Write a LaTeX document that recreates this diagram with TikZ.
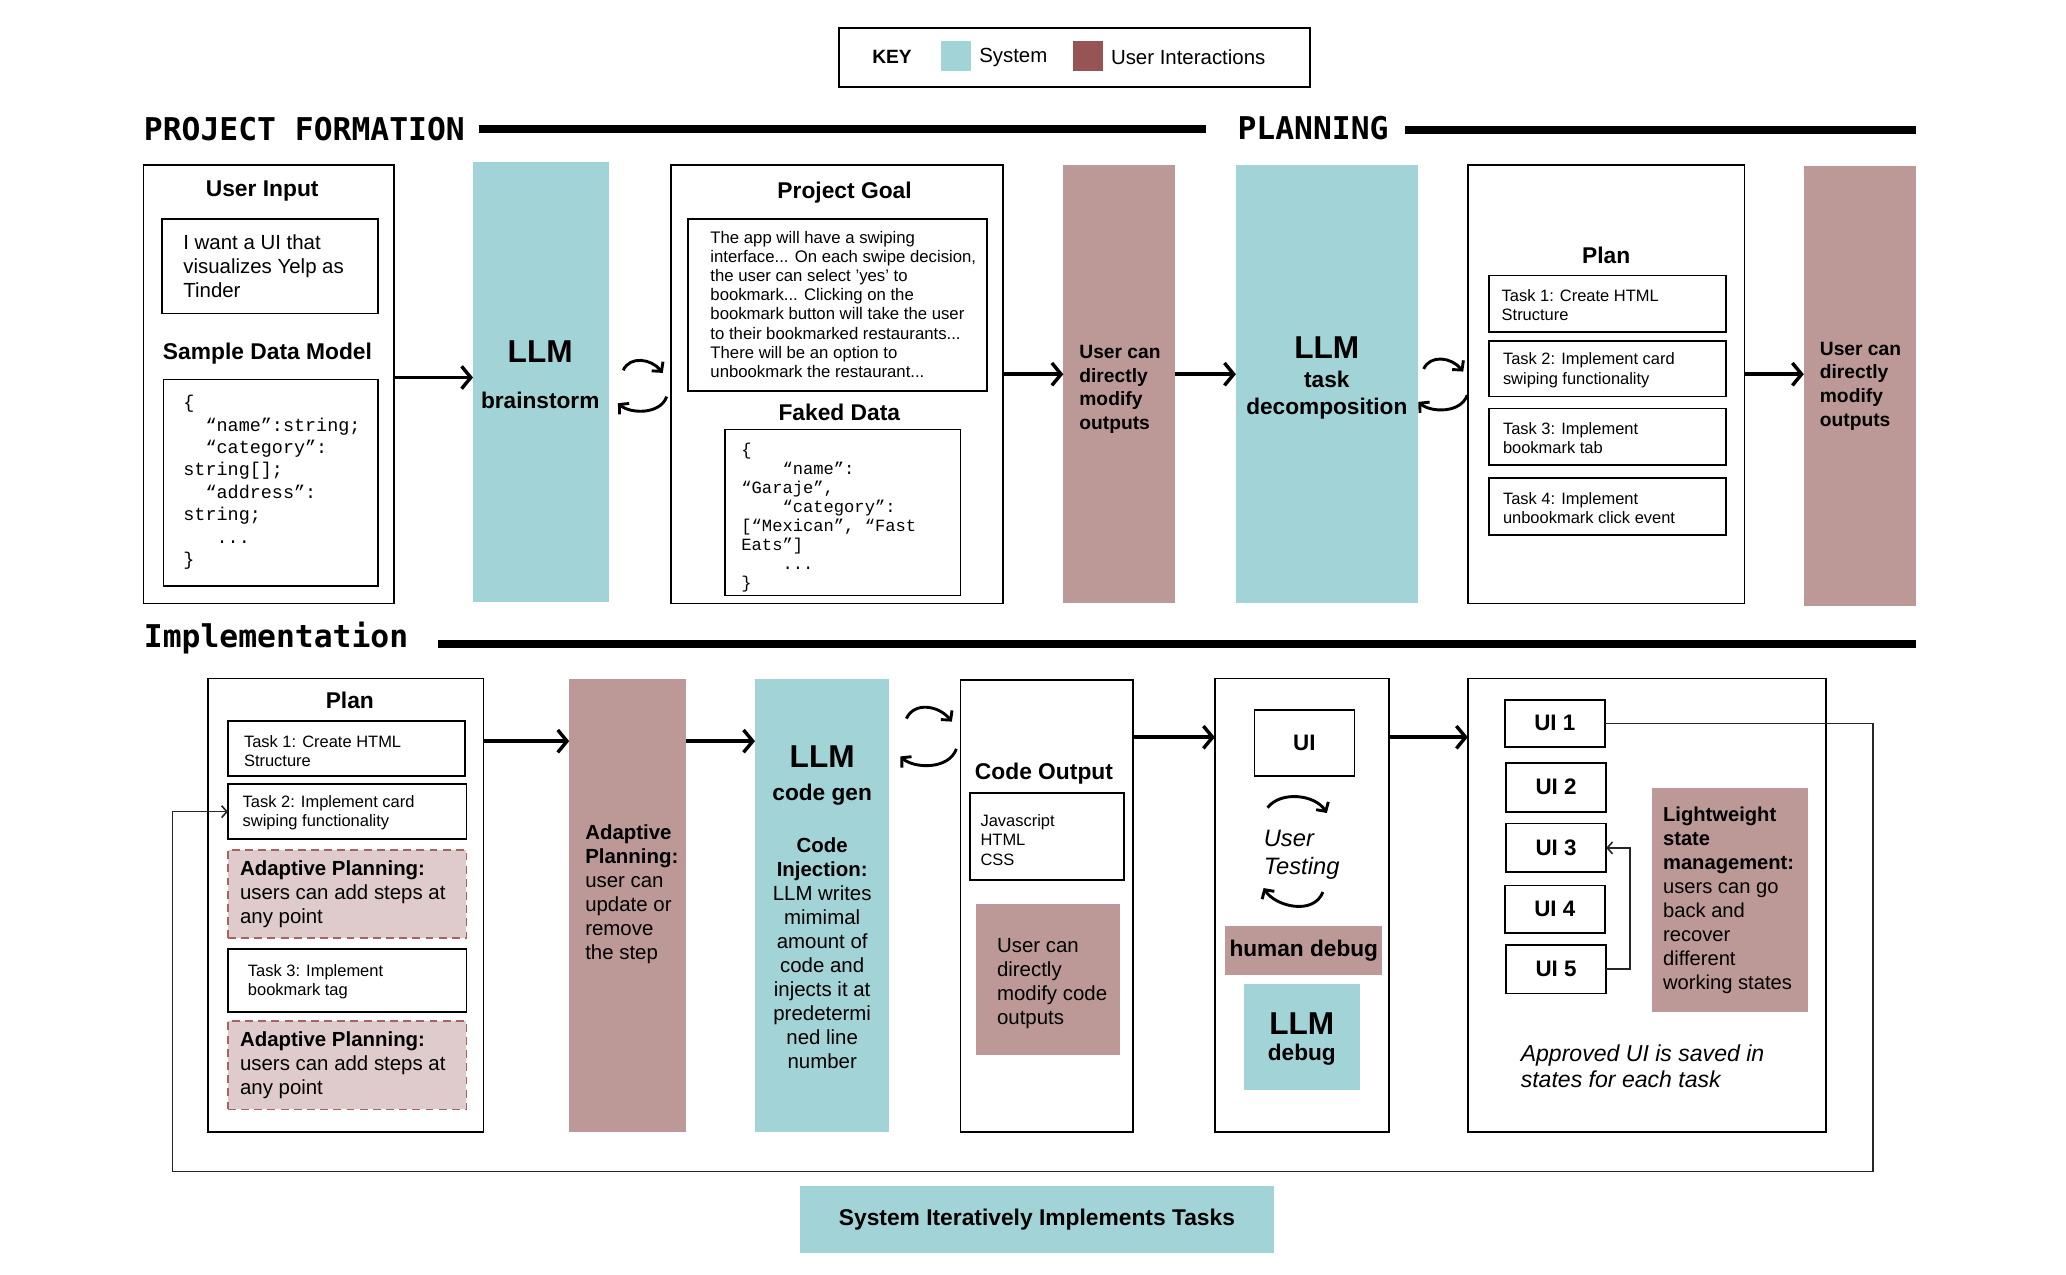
\documentclass[tikz,border=0pt]{standalone}
\usepackage{fontspec}
\setmainfont{Liberation Sans}
\newfontfamily\codefont{Liberation Mono}
\newfontfamily\headfont{DejaVu Sans Mono}
\usetikzlibrary{arrows.meta}
\definecolor{sysc}{HTML}{A2D3D6}
\definecolor{usrc}{HTML}{BC9896}
\definecolor{keyu}{HTML}{975454}
\definecolor{adaptf}{HTML}{DFCBCB}
\definecolor{adaptb}{HTML}{A86262}
\newcommand\fsz[2]{\fontsize{#1}{#2}\selectfont}
\newcommand\bft[1]{{\bfseries #1}}
\newcommand\ind[1]{\hphantom{#1}}
\tikzset{
  box/.style={draw=black, line width=1.3pt, anchor=north west, inner sep=0pt, outer sep=0pt},
  sysbox/.style={fill=sysc, anchor=north west, inner sep=0pt, outer sep=0pt},
  usrbox/.style={fill=usrc, anchor=north west, inner sep=0pt, outer sep=0pt},
  adbox/.style={fill=adaptf, draw=adaptb, line width=1.2pt, dash pattern=on 6pt off 4pt, anchor=north west, inner sep=0pt, outer sep=0pt},
  txt/.style={inner sep=0pt, anchor=west, align=left},
  ctxt/.style={inner sep=0pt, anchor=center, align=center},
  ttl/.style={ctxt, font=\bfseries\fsz{17.3}{20}},
  llmt/.style={ctxt, font=\bfseries\fsz{24}{28}},
  subt/.style={ctxt, font=\bfseries\fsz{17.2}{20.3}},
  body/.style={txt, font=\fsz{15.5}{18.2}},
  modt/.style={txt, font=\bfseries\fsz{14.6}{18}},
  task/.style={txt, font=\fsz{12.5}{14.8}},
  hdr/.style={inner sep=0pt, anchor=base west, font=\headfont\bfseries\fsz{23.8}{26}},
  uit/.style={box, font=\bfseries\fsz{17}{20}},
  bigarr/.style={line width=2.6pt, -{Straight Barb[length=7pt,width=17pt]}},
  cycarr/.style={line width=2.2pt, -{Straight Barb[length=5pt,width=11pt]}},
  thinarr/.style={line width=1.2pt, draw=black!85, -{Straight Barb[length=4pt,width=9pt]}},
  rulebar/.style={line width=6pt},
  cyc/.pic={
    \draw[cycarr] (-14,-11) .. controls (-9,-22) and (7,-20) .. (16,-9);
    \draw[cycarr] (19,9) .. controls (14,23) and (-9,22) .. (-18,14);
  }
}
\begin{document}
\begin{tikzpicture}[x=1pt,y=-1pt]
\fill[white] (0,0) rectangle (1568,967);
\useasboundingbox (0,0) rectangle (1568,967);

% ---------- key ----------
\node[box, minimum width=357, minimum height=45] (key) at (637,21) {};
\node[ctxt, font=\bfseries\fsz{14.6}{17}] (keyT) at (677,43.5) {KEY};
\node[sysbox, minimum width=23, minimum height=23] (keysys) at (714,31) {};
\node[txt, font=\fsz{15.5}{18}] (keysysT) at (743,43.5) {System};
\node[anchor=north west, inner sep=0pt, fill=keyu, minimum width=23, minimum height=23] (keyusr) at (814,31) {};
\node[txt, font=\fsz{15.5}{18}] (keyusrT) at (843,43.5) {User Interactions};

% ---------- section headers ----------
\node[hdr] (hPF) at (109,107) {PROJECT FORMATION};
\node[hdr] (hPL) at (939,106) {PLANNING};
\node[hdr] (hIM) at (109,491.5) {Implementation};
\draw[rulebar] (363.5,97.7) -- (915,97.7);
\draw[rulebar] (1066.5,98.8) -- (1454,98.8);
\draw[rulebar] (332.5,488.5) -- (1454,488.5);

% ---------- top row ----------
\node[box, minimum width=190, minimum height=333] (uin) at (109,125) {};
\node[ttl] (uinT) at (199,145) {User Input};
\node[box, minimum width=164, minimum height=72] (uinIn) at (123,166) {};
\node[body] (uinTx) at (139,202) {I want a UI that\\visualizes Yelp as\\Tinder};
\node[ttl] (sdmT) at (203,268) {Sample Data Model};
\node[box, minimum width=163, minimum height=157] (sdm) at (124,288) {};
\node[txt, font=\codefont\fsz{14}{17}] (sdmTx) at (139,366) {\{\\\ind{xx}“name”:string;\\\ind{xx}“category”:\\string[];\\\ind{xx}“address”:\\string;\\\ind{xxx}...\\\}};

\node[sysbox, minimum width=103, minimum height=334] (llm1) at (359,123) {};
\node[llmt] (llm1a) at (410,267) {LLM};
\node[subt] (llm1b) at (410,303.6) {brainstorm};

\node[box, minimum width=252, minimum height=333] (pg) at (509,125) {};
\node[ttl] (pgT) at (641,146) {Project Goal};
\node[box, minimum width=227, minimum height=131] (pgIn) at (522,166) {};
\node[txt, font=\fsz{12.7}{14.5}] (pgTx) at (539,231) {The app will have a swiping\\interface... On each swipe decision,\\the user can select 'yes' to\\bookmark... Clicking on the\\bookmark button will take the user\\to their bookmarked restaurants...\\There will be an option to\\unbookmark the restaurant...};
\node[ttl] (fkT) at (637,313) {Faked Data};
\node[box, minimum width=179, minimum height=126] (fk) at (550,326) {};
\node[txt, font=\codefont\fsz{13}{14.4}] (fkTx) at (562.5,392.7) {\{\\\ind{xxxx}“name”:\\“Garaje”,\\\ind{xxxx}“category”:\\{}[“Mexican”, “Fast\\Eats”]\\\ind{xxxx}...\\\}};

\node[usrbox, minimum width=85, minimum height=333] (mod1) at (807,125) {};
\node[modt] (mod1T) at (819,295.6) {User can\\directly\\modify\\outputs};

\node[sysbox, minimum width=138, minimum height=333] (llm2) at (938,125) {};
\node[llmt] (llm2a) at (1007,264) {LLM};
\node[subt] (llm2b) at (1007,300) {task\\decomposition};

\node[box, minimum width=210, minimum height=333] (plan1) at (1114,125) {};
\node[ttl] (plan1T) at (1219,193.6) {Plan};
\node[box, minimum width=180, minimum height=43] (pt1) at (1130,209) {};
\node[box, minimum width=180, minimum height=42] (pt2) at (1130,259) {};
\node[box, minimum width=180, minimum height=43] (pt3) at (1130,310) {};
\node[box, minimum width=180, minimum height=43] (pt4) at (1130,363) {};
\node[task] (pt1T) at (1139.5,231.5) {Task 1: Create HTML\\Structure};
\node[task] (pt2T) at (1140.5,281) {Task 2: Implement card\\swiping functionality};
\node[task] (pt3T) at (1140.5,332.5) {Task 3: Implement\\bookmark tab};
\node[task] (pt4T) at (1140.5,385.5) {Task 4: Implement\\unbookmark click event};

\node[usrbox, minimum width=85, minimum height=334] (mod2) at (1369,126) {};
\node[modt] (mod2T) at (1381,293) {User can\\directly\\modify\\outputs};

% top arrows
\coordinate (r1a) at (0,286.5);
\coordinate (r1) at (0,284);
\draw[bigarr] (uin.east |- r1a) -- (llm1.west |- r1a);
\draw[bigarr] (pg.east |- r1) -- (mod1.west |- r1);
\draw[bigarr] (mod1.east |- r1) -- (llm2.west |- r1);
\draw[bigarr] (plan1.east |- r1) -- (mod2.west |- r1);
\pic at (487,292) {cyc};
\pic at (1094.5,291) {cyc};

% ---------- bottom row ----------
\node[box, minimum width=209, minimum height=344] (plan2) at (158,515) {};
\node[ttl] (plan2T) at (265.5,531.6) {Plan};
\node[box, minimum width=180, minimum height=42] (bt1) at (173,547) {};
\node[box, minimum width=181, minimum height=42] (bt2) at (173,595) {};
\node[adbox, minimum width=181, minimum height=67] (ad1) at (173,645) {};
\node[box, minimum width=181, minimum height=48] (bt3) at (173,720) {};
\node[adbox, minimum width=181, minimum height=67] (ad2) at (173,775) {};
\node[task] (bt1T) at (185,570) {Task 1: Create HTML\\Structure};
\node[task] (bt2T) at (184,617) {Task 2: Implement card\\swiping functionality};
\node[task] (bt3T) at (188,745) {Task 3: Implement\\bookmark tag};
\node[body] (ad1T) at (182,678.5) {\bft{Adaptive Planning:}\\users can add steps at\\any point};
\node[body] (ad2T) at (182,808.4) {\bft{Adaptive Planning:}\\users can add steps at\\any point};

\node[usrbox, minimum width=89, minimum height=344] (adp) at (432,515) {};
\node[body] (adpT) at (444,679) {\bft{Adaptive}\\\bft{Planning:}\\user can\\update or\\remove\\the step};

\node[sysbox, minimum width=102, minimum height=344] (llm3) at (573,515) {};
\node[llmt] (llm3a) at (624,574.5) {LLM};
\node[subt] (llm3b) at (624,603.4) {code gen};
\node[ctxt, font=\fsz{15.5}{18.2}] (llm3c) at (624,723.6) {\bft{Code}\\\bft{Injection:}\\LLM writes\\mimimal\\amount of\\code and\\injects it at\\predetermi\\ned line\\number};

\node[box, minimum width=131, minimum height=343] (code) at (729,516) {};
\node[ttl] (codeT) at (792.3,587.5) {Code Output};
\node[box, minimum width=117, minimum height=66] (codeIn) at (736,602) {};
\node[txt, font=\fsz{12.5}{15}] (codeInT) at (744,637.5) {Javascript\\HTML\\CSS};
\node[usrbox, minimum width=109, minimum height=115] (codeMod) at (741,686) {};
\node[body] (codeModT) at (756.5,746.8) {User can\\directly\\modify code\\outputs};

\node[box, minimum width=132, minimum height=344] (test) at (922,515) {};
\node[uit, minimum width=76, minimum height=50] (uibox) at (952,539) {UI};
\draw[cycarr] (962,613) .. controls (972,600) and (998,603) .. (1007,617);
\node[txt, font=\itshape\fsz{18}{21}] (utT) at (959,648.7) {User\\Testing};
\draw[cycarr] (1004,677) .. controls (997,695) and (968,688) .. (959,674);
\node[usrbox, minimum width=119, minimum height=37, font=\bfseries\fsz{17.2}{20}] (hdbg) at (930,703) {human debug};
\node[sysbox, minimum width=88, minimum height=80] (ldbg) at (944,747) {};
\node[llmt] (ldbgA) at (988,777) {LLM};
\node[subt] (ldbgB) at (988,800.8) {debug};

\node[box, minimum width=272, minimum height=344] (st) at (1114,515) {};
\node[uit, minimum width=76, minimum height=36] (ui1) at (1142,531) {UI 1};
\node[uit, minimum width=76, minimum height=37] (ui2) at (1143,579) {UI 2};
\node[uit, minimum width=76, minimum height=37] (ui3) at (1143,625) {UI 3};
\node[uit, minimum width=76, minimum height=36] (ui4) at (1142,672) {UI 4};
\node[uit, minimum width=76, minimum height=37] (ui5) at (1143,717) {UI 5};
\node[usrbox, minimum width=118, minimum height=170] (lw) at (1254,598) {};
\node[txt, font=\fsz{15.3}{18.2}] (lwT) at (1262,683.2) {\bft{Lightweight}\\\bft{state}\\\bft{management:}\\users can go\\back and\\recover\\different\\working states};
\node[txt, font=\itshape\fsz{17.5}{20.4}] (appT) at (1154,809.2) {Approved UI is saved in\\states for each task};

\node[sysbox, minimum width=360, minimum height=51, font=\bfseries\fsz{17.3}{20}] (sysIt) at (607,900) {System Iteratively Implements Tasks};

% bottom arrows
\coordinate (r2) at (0,562.5);
\coordinate (r3) at (0,559.5);
\draw[bigarr] (plan2.east |- r2) -- (adp.west |- r2);
\draw[bigarr] (adp.east |- r2) -- (llm3.west |- r2);
\draw[bigarr] (code.east |- r3) -- (test.west |- r3);
\draw[bigarr] (test.east |- r3) -- (st.west |- r3);
\pic[scale=1.15] at (704,558) {cyc};

% UI state bracket
\coordinate (brk) at (1237,0);
\draw[thinarr] (ui5.east) -- (brk |- ui5.east) -- (brk |- ui3.east) -- (ui3.east);

% iteration loop
\coordinate (lpR) at (1421.5,889);
\coordinate (lpL) at (131,889);
\draw[thinarr] (ui1.east) -| (lpR) -- (lpL) |- (bt2.west);
\end{tikzpicture}
\end{document}
